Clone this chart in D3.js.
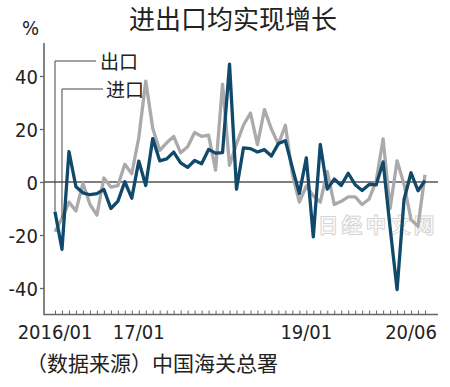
<!DOCTYPE html>
<html>
<head>
<meta charset="utf-8">
<script src="https://cdn.jsdelivr.net/npm/d3@7"></script>
<style>
  body { margin: 0; background: #fff; }
  svg { display: block; }
  .num { font-family: "Liberation Sans Narrow", "DejaVu Sans Condensed", "Liberation Sans", sans-serif; font-size: 20px; fill: #222; }
  .cjk { font-family: "Noto Sans CJK SC", sans-serif; fill: #222; }
</style>
</head>
<body>
<svg id="svg"></svg>
<script>
// monthly, 2016/01 .. 2020/06, y/y %
let months = d3.range(54)
let exportsPct = [
  -11.2, -25.4, 11.5, -1.8, -4.1, -4.8, -4.4, -2.8, -10.0, -7.3, 0.1, -6.1,
  7.9, -1.3, 16.4, 8.0, 8.7, 11.3, 7.2, 5.5, 8.1, 6.9, 12.3, 10.9,
  11.1, 44.5, -2.7, 12.9, 12.6, 11.3, 12.2, 9.8, 14.5, 15.6, 5.4, -4.4,
  9.1, -20.7, 14.2, -2.7, 1.1, -1.3, 3.3, -1.0, -3.2, -0.9, -1.1, 7.6,
  -17.2, -40.6, -6.6, 3.5, -3.3, 0.5
]
let importsPct = [
  -18.8, -13.8, -7.6, -10.9, -0.4, -8.4, -12.5, 1.5, -1.9, -1.4, 6.7, 3.1,
  16.7, 38.1, 20.3, 11.9, 14.8, 17.2, 11.0, 13.3, 18.7, 17.2, 17.7, 4.5,
  36.9, 6.3, 14.4, 21.5, 26.0, 14.1, 27.3, 20.0, 14.3, 21.4, 3.0, -7.6,
  -1.5, -5.2, -7.6, 4.0, -8.5, -7.3, -5.6, -5.6, -8.5, -6.4, 0.3, 16.3,
  -10.0, 8.0, -0.9, -14.2, -16.7, 2.7
]
let yTicks = [40, 20, 0, -20, -40]
let xLabels = ['2016/01', '17/01', '19/01', '20/06']
let xLabelIdx = [0, 12, 36, 53]
let seriesNames = ['出口', '进口']

let svg = d3.select('#svg').attr('width', 450).attr('height', 387)

let x = d3.scaleLinear().domain([0, 53]).range([55, 425])
let y = d3.scaleLinear().domain([-50, 50]).range([314.5, 49.5])
let left = 44, right = 438, bottom = 314.5

//title
svg.append('text').attr('class', 'cjk')
  .attr('x', 233).attr('y', 29).attr('text-anchor', 'middle')
  .attr('font-size', 26).text('进出口均实现增长')

//unit
svg.append('text').attr('class', 'num')
  .attr('x', 22).attr('y', 35).text('%')

//y axis (plain hyphen minus, like the original)
let yAxis = d3.axisLeft(y).tickValues(yTicks).tickSize(4).tickPadding(2).tickFormat(d => String(d))
let yGroup = svg.append('g').attr('transform', `translate(${left},0)`).call(yAxis)
yGroup.select('.domain').remove()
yGroup.selectAll('line').attr('stroke', '#666').attr('stroke-width', 1.3)
yGroup.selectAll('text').attr('class', 'num').attr('font-size', null).attr('font-family', null).attr('fill', null)
  .attr('dy', '0.36em')

//x axis, ticks pointing up
let xAxis = d3.axisBottom(x).tickValues(months).tickSize(-4).tickFormat('')
let xGroup = svg.append('g').attr('transform', `translate(0,${bottom})`).call(xAxis)
xGroup.select('.domain').remove()
xGroup.selectAll('line').attr('stroke', '#666').attr('stroke-width', 1)

//axis lines
svg.append('path')
  .attr('d', `M${left},43V${bottom}H${right}`)
  .attr('fill', 'none').attr('stroke', '#666').attr('stroke-width', 1.6)

//zero line
svg.append('line')
  .attr('x1', left).attr('x2', right).attr('y1', y(0)).attr('y2', y(0))
  .attr('stroke', '#555').attr('stroke-width', 1.3)

//x labels
svg.append('g').selectAll('text')
  .data(xLabels)
  .join('text')
  .attr('class', 'num')
  .attr('x', (d, i) => i == xLabels.length - 1 ? x(xLabelIdx[i]) + 12 : x(xLabelIdx[i]))
  .attr('y', 339)
  .attr('text-anchor', (d, i) => i == xLabels.length - 1 ? 'end' : 'middle')
  .text(d => d)

//watermark
svg.append('text').attr('class', 'cjk')
  .attr('x', 318).attr('y', 233)
  .attr('font-size', 20).attr('letter-spacing', 4)
  .attr('style', 'fill:#fafafa;paint-order:stroke;stroke:#d4d4d4;stroke-width:2px;')
  .text('日经中文网')

//lines
let line = d3.line().x((d, i) => x(i)).y(d => y(d))
svg.append('path').datum(importsPct)
  .attr('d', line).attr('fill', 'none')
  .attr('stroke', '#aaaaac').attr('stroke-width', 3.3).attr('stroke-linejoin', 'round')
svg.append('path').datum(exportsPct)
  .attr('d', line).attr('fill', 'none')
  .attr('stroke', '#11496b').attr('stroke-width', 3.3).attr('stroke-linejoin', 'round')

//legend leader lines
let legend = [
  { name: seriesNames[0], i: 0, v: exportsPct[0], ly: 61, lx2: 96, tx: 100, ty: 69 },
  { name: seriesNames[1], i: 1, v: importsPct[1], ly: 89, lx2: 103, tx: 106, ty: 97 }
]
legend.forEach(l => {
  svg.append('path')
    .attr('d', `M${l.lx2},${l.ly}H${x(l.i)}V${y(l.v)}`)
    .attr('fill', 'none').attr('stroke', '#444').attr('stroke-width', 1)
  svg.append('text').attr('class', 'cjk')
    .attr('x', l.tx).attr('y', l.ty).attr('font-size', 19).text(l.name)
})

//source
svg.append('text').attr('class', 'cjk')
  .attr('x', 26).attr('y', 371).attr('font-size', 21)
  .text('（数据来源）中国海关总署')
</script>
</body>
</html>
